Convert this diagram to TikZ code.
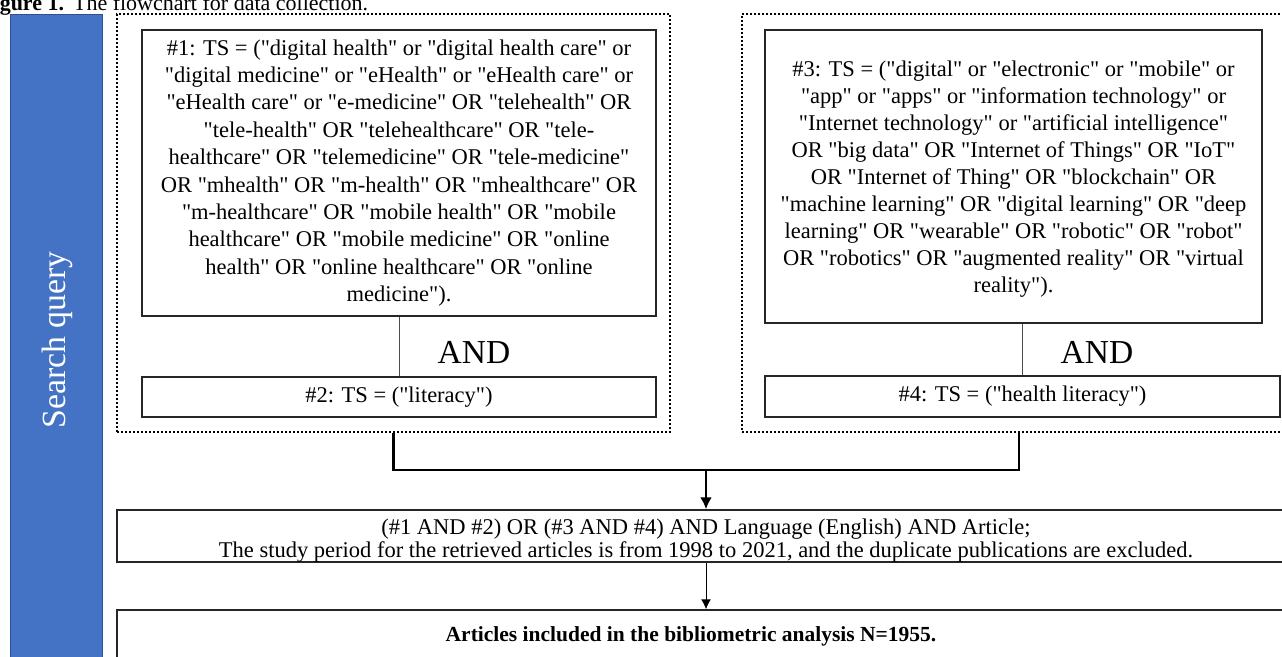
\documentclass[tikz,border=0pt]{standalone}
\usepackage{fontspec}
\setmainfont{Liberation Serif}[Ligatures=TeXOff]
\usetikzlibrary{arrows.meta}

\definecolor{barblue}{HTML}{4472C4}
\definecolor{baredge}{HTML}{2F528F}

\begin{document}
\begin{tikzpicture}[x=1pt,y=-1pt,
  box/.style={draw=black!85, line width=1.5pt, rectangle, inner sep=0pt, align=center},
  group/.style={draw=black, line width=1.8pt, dash pattern=on 1.6pt off 2.4pt, inner sep=0pt},
  body/.style={font=\fontsize{22.5}{27.4}\selectfont},
  bodytight/.style={font=\fontsize{22.5}{27}\selectfont},
  small/.style={font=\fontsize{22.5}{23}\selectfont},
  andtxt/.style={font=\fontsize{33.5}{33.5}\selectfont, inner sep=0pt},
  link/.style={draw=black!70, line width=1pt},
  merge/.style={draw=black, line width=2.6pt},
  flow/.style={draw=black, line width=1pt, -{Latex[length=10pt,width=10pt]}},
  flowthick/.style={draw=black, line width=2.6pt, -{Latex[length=12pt,width=12pt]}},
]
\useasboundingbox (0,0) rectangle (1282,656);
\clip (0,0) rectangle (1282,656);

% caption
\node[anchor=base west, inner sep=0pt, font=\fontsize{22}{22}\selectfont] (cap) at (-20,10.5)
  {\textbf{Figure 1.}\hspace{9pt}The flowchart for data collection.};

% side bar
\node[fill=barblue, draw=baredge, line width=0.8pt, minimum width=92pt, minimum height=646pt,
      inner sep=0pt] (bar) at (56,337) {};
\node[rotate=90, text=white, inner sep=0pt, font=\fontsize{33.8}{33.8}\selectfont] (barlabel)
  at (57.5,340) {Search query};

% dotted groups
\node[group, minimum width=553pt, minimum height=418pt] (grp1) at (393.5,223) {};
\node[group, minimum width=554pt, minimum height=418pt] (grp2) at (1019,223) {};

% query boxes
\node[box, body, minimum width=514pt, minimum height=286pt] (b1) at (399,173)
  {\#1: TS = ("digital health" or "digital health care" or\\
   "digital medicine" or "eHealth" or "eHealth care" or\\
   "eHealth care" or "e-medicine" OR "telehealth" OR\\
   "tele-health" OR "telehealthcare" OR "tele-\\
   healthcare" OR "telemedicine" OR "tele-medicine"\\
   OR "mhealth" OR "m-health" OR "mhealthcare" OR\\
   "m-healthcare" OR "mobile health" OR "mobile\\
   healthcare" OR "mobile medicine" OR "online\\
   health" OR "online healthcare" OR "online\\
   medicine").};
\node[box, body, minimum width=514pt, minimum height=40pt] (b2) at (399,397)
  {\#2: TS = ("literacy")};

\node[box, minimum width=497pt, minimum height=293pt] (b3) at (1013.5,176.5) {};
\node[bodytight, align=center, inner sep=0pt] (b3text) at (1013.5,179)
  {\#3: TS = ("digital" or "electronic" or "mobile" or\\
   "app" or "apps" or "information technology" or\\
   "Internet technology" or "artificial intelligence"\\
   OR "big data" OR "Internet of Things" OR "IoT"\\
   OR "Internet of Thing" OR "blockchain" OR\\
   "machine learning" OR "digital learning" OR "deep\\
   learning" OR "wearable" OR "robotic" OR "robot"\\
   OR "robotics" OR "augmented reality" OR "virtual\\
   reality").};
\node[box, body, minimum width=515pt, minimum height=41pt] (b4) at (1022.5,396.5)
  {\#4: TS = ("health literacy")};

\node[andtxt] (and1) at (474,352) {AND};
\node[andtxt] (and2) at (1097,352) {AND};

\draw[link] (b1.south) -- (b2.north);
\draw[link] (b4.north) -- (b4.north |- b3.south);

% merged search and result
\node[box, minimum width=1178pt, minimum height=52pt] (b5) at (706,536) {};
\node[small, align=center, inner sep=0pt] (b5text) at (706,541)
  {(\#1 AND \#2) OR (\#3 AND \#4) AND Language (English) AND Article;\\
   The study period for the retrieved articles is from 1998 to 2021, and the duplicate publications are excluded.};
\node[box, minimum width=1178pt, minimum height=52pt] (b6) at (706,636) {};
\node[inner sep=0pt, font=\bfseries\fontsize{21.5}{21.5}\selectfont] (b6text) at (691,636)
  {Articles included in the bibliometric analysis N=1955.};

\coordinate (j) at (706,470);
\draw[merge] (grp1.south) |- (j);
\draw[merge] (grp2.south) |- (j);
\draw[flowthick] (j) -- (b5.north);
\draw[flow] (b5.south) -- (b6.north);
\end{tikzpicture}
\end{document}
